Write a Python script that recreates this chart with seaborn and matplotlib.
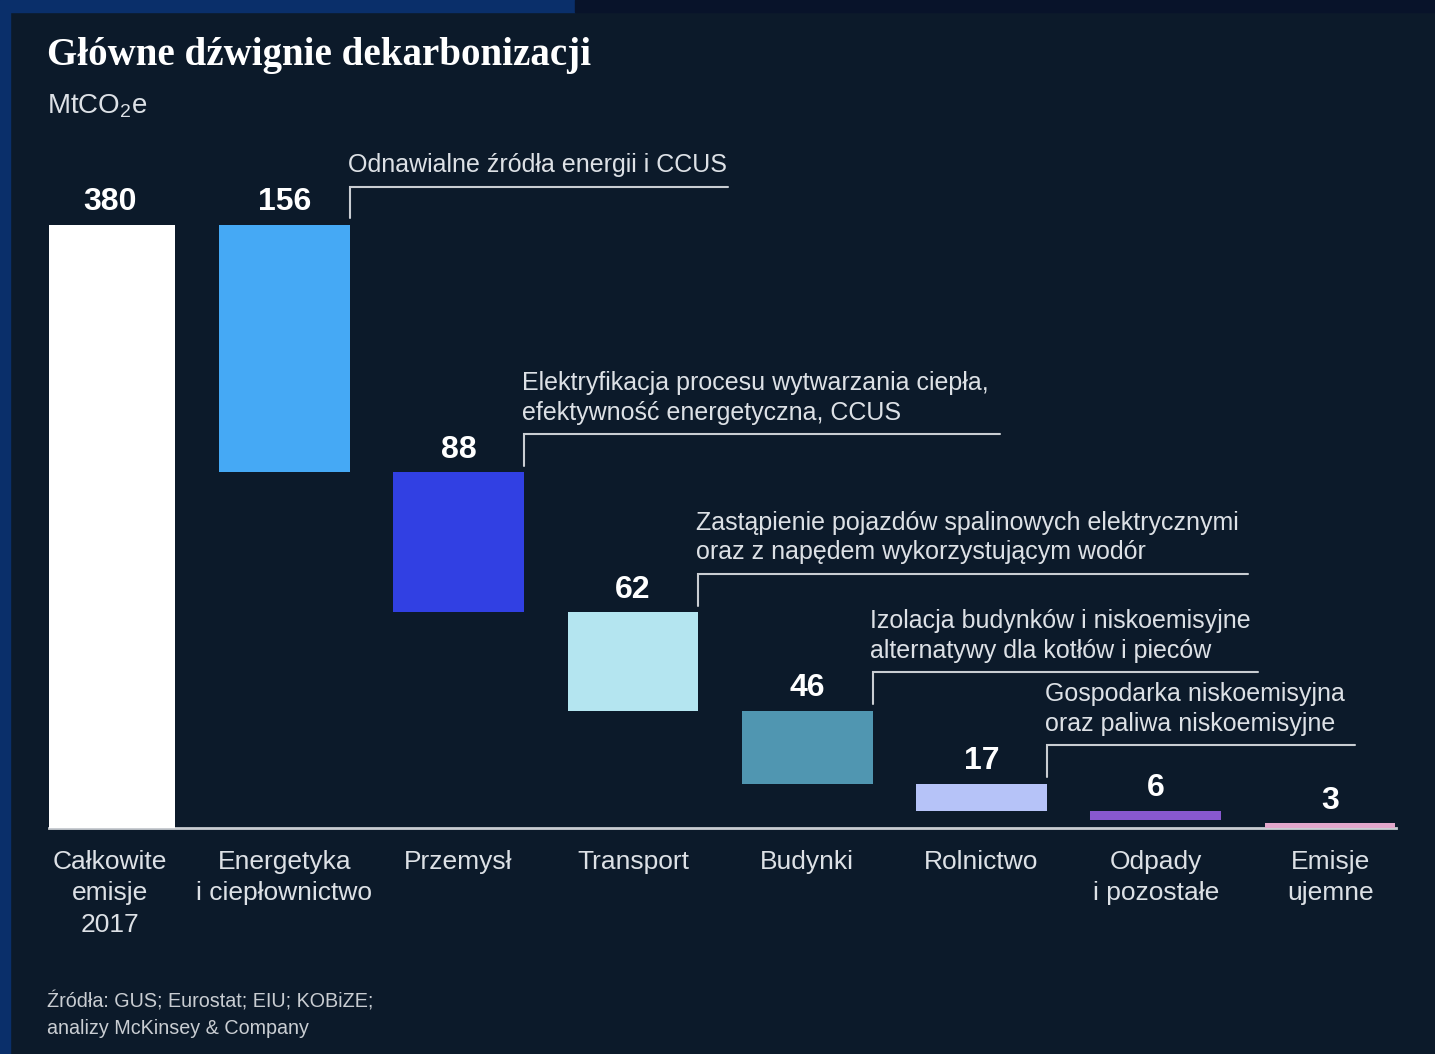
import matplotlib
matplotlib.use("Agg")
import matplotlib.pyplot as plt
import seaborn as sns
import pandas as pd
from matplotlib.patches import Rectangle

# ---------------- data ----------------
categories = ["Całkowite\nemisje\n2017", "Energetyka\ni ciepłownictwo", "Przemysł",
              "Transport", "Budynki", "Rolnictwo", "Odpady\ni pozostałe", "Emisje\nujemne"]
values = [380, 156, 88, 62, 46, 17, 6, 3]
bar_colors = ["#ffffff", "#45a9f5", "#3140e3", "#b4e5f0", "#5096b1",
              "#b6c3f8", "#8858cf", "#e2a7cb"]
lever_texts = ["Odnawialne źródła energii i CCUS",
               "Elektryfikacja procesu wytwarzania ciepła,\nefektywność energetyczna, CCUS",
               "Zastąpienie pojazdów spalinowych elektrycznymi\noraz z napędem wykorzystującym wodór",
               "Izolacja budynków i niskoemisyjne\nalternatywy dla kotłów i pieców",
               "Gospodarka niskoemisyjna\noraz paliwa niskoemisyjne"]
lever_bars = [1, 2, 3, 4, 5]
title_text = "Główne dźwignie dekarbonizacji"
unit_text = r"MtCO$_\mathregular{2}$e"
source_lines = ["Źródła: GUS; Eurostat; EIU; KOBiZE;", "analizy McKinsey & Company"]

# layout (not data)
bracket_right = [3.546, 5.106, 6.529, 6.586, 7.143]

# waterfall bottoms
bottoms = [0]
running = values[0]
for v in values[1:-1]:
    running -= v
    bottoms.append(running)
bottoms.append(0)
tops = [b + v for b, v in zip(bottoms, values)]

BG = "#0c1a2a"
TXT = "#dde1e6"
W, H = 1435, 1054

sns.set_theme(style="white")
plt.rcParams["font.family"] = ["Liberation Sans", "DejaVu Sans"]

fig = plt.figure(figsize=(W / 100, H / 100), dpi=100, facecolor=BG)

# frame decorations
fig.patches.append(Rectangle((0, 0), 10 / W, 1, transform=fig.transFigure,
                             color="#0a2f6a", zorder=0))
fig.patches.append(Rectangle((0, 1 - 12 / H), 575 / W, 12 / H, transform=fig.transFigure,
                             color="#0a2f6a", zorder=0))
fig.patches.append(Rectangle((575 / W, 1 - 12 / H), 1 - 575 / W, 12 / H,
                             transform=fig.transFigure, color="#08132a", zorder=0))

ax = fig.add_axes([49 / W, 1 - 828 / H, 1347 / W, (828 - 150) / H])
ax.set_facecolor(BG)

df = pd.DataFrame({"cat": categories, "val": values})
sns.barplot(data=df, x="cat", y="val", hue="cat", palette=bar_colors,
            width=0.75, legend=False, ax=ax, saturation=1, linewidth=0)

for patch, b in zip(ax.patches, bottoms):
    patch.set_y(b)

ax.set_ylim(0, 427)
ax.set_xlim((49 - 110) / 174.3, (1396 - 110) / 174.3)

for s in ["top", "right", "left"]:
    ax.spines[s].set_visible(False)
ax.spines["bottom"].set_color("#c9cdd2")
ax.spines["bottom"].set_linewidth(2)
ax.spines["bottom"].set_zorder(0.5)
ax.set_yticks([])
ax.set_xlabel("")
ax.set_ylabel("")
ax.tick_params(axis="x", length=0, pad=16, labelsize=19, labelcolor=TXT)
for lab in ax.get_xticklabels():
    lab.set_linespacing(1.38)
    lab.set_ha("center")

# value labels
for i, (t, v) in enumerate(zip(tops, values)):
    ax.text(i, t + 14, f"{v}", ha="center", va="center", color="white",
            fontsize=23, fontweight="bold")

# lever brackets
for txt, bi, xr in zip(lever_texts, lever_bars, bracket_right):
    xe = bi + 0.375
    top = tops[bi]
    ly = top + 24
    ax.plot([xe, xe, xr], [top + 4, ly, ly], color="#c9cdd2", lw=1.5,
            solid_joinstyle="miter", clip_on=False)
    ax.text(xe - 0.012, ly + 6, txt, ha="left", va="bottom", color=TXT,
            fontsize=18, linespacing=1.3)

# titles and source
fig.text(47 / W, 1 - 55 / H, title_text, ha="left", va="center", color="white",
         fontsize=28, fontweight="bold", family=["Liberation Serif", "DejaVu Serif"])
fig.text(47 / W, 1 - 106 / H, unit_text, ha="left", va="center", color=TXT, fontsize=20)
fig.text(47 / W, 1 - 1001 / H, source_lines[0], ha="left", va="center", color="#c9cdd2",
         fontsize=14.2)
fig.text(47 / W, 1 - 1029 / H, source_lines[1], ha="left", va="center", color="#c9cdd2",
         fontsize=14.2)

fig.savefig("out.png", dpi=100, facecolor=BG)
